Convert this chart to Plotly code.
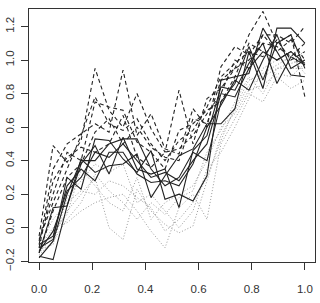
import plotly.graph_objects as go

x = [i / 19 for i in range(20)]

solid = [
    [-0.17,-0.19,0.13,0.41,0.33,0.37,0.38,0.44,0.18,0.31,0.43,0.47,0.62,0.62,0.71,1.05,0.83,1.19,1.19,1.10],
    [-0.12,-0.07,0.30,0.23,0.53,0.52,0.41,0.33,0.46,0.17,0.20,0.16,0.31,0.88,0.90,0.92,1.19,1.05,0.91,0.90],
    [-0.15,0.12,0.13,0.38,0.49,0.32,0.54,0.35,0.32,0.35,0.12,0.46,0.55,0.84,0.82,0.98,1.10,0.86,1.02,0.97],
    [-0.10,-0.05,0.25,0.35,0.28,0.45,0.45,0.32,0.27,0.28,0.25,0.38,0.60,0.73,0.88,0.82,1.00,1.15,0.95,1.00],
    [-0.18,-0.08,0.20,0.40,0.40,0.50,0.53,0.53,0.35,0.25,0.30,0.45,0.40,0.75,0.86,1.08,0.88,1.10,1.15,0.95],
    [-0.14,-0.02,0.22,0.30,0.45,0.42,0.50,0.40,0.30,0.33,0.28,0.40,0.50,0.80,0.78,0.95,1.05,1.00,1.05,0.98],
]

dashed = [
    [-0.05,0.49,0.39,0.52,0.95,0.70,0.60,0.80,0.59,0.45,0.82,0.50,0.77,0.83,0.95,1.15,1.29,1.10,1.15,0.78],
    [-0.10,0.35,0.50,0.56,0.62,0.57,0.94,0.55,0.68,0.47,0.44,0.71,0.60,0.96,1.08,1.03,1.15,1.15,1.10,1.20],
    [-0.08,0.20,0.45,0.40,0.75,0.72,0.70,0.51,0.45,0.35,0.58,0.62,0.70,0.75,0.90,1.10,1.05,1.00,1.05,0.97],
    [-0.15,0.10,0.30,0.38,0.57,0.65,0.50,0.60,0.48,0.42,0.40,0.65,0.62,0.88,0.95,1.00,1.10,1.08,1.02,1.10],
    [-0.12,0.28,0.42,0.48,0.45,0.50,0.67,0.42,0.36,0.45,0.47,0.55,0.68,0.80,1.00,0.95,1.15,1.05,1.12,1.00],
    [-0.07,0.15,0.35,0.55,0.78,0.62,0.58,0.65,0.50,0.40,0.52,0.58,0.72,0.90,0.98,1.05,1.02,1.12,1.00,1.05],
]

dotted = [
    [-0.12,0.00,0.03,0.10,0.15,0.18,0.20,0.10,-0.02,-0.12,0.12,0.20,0.05,0.50,0.65,0.80,0.75,0.90,0.83,0.88],
    [-0.15,-0.05,0.10,0.20,0.30,0.00,-0.07,0.23,0.10,0.02,-0.03,0.01,0.28,0.55,0.70,0.85,0.90,0.95,0.95,0.95],
    [-0.13,-0.10,0.18,0.28,0.38,0.33,0.38,0.15,0.20,0.10,0.00,0.10,0.35,0.45,0.60,0.77,0.95,1.00,1.00,1.05],
    [-0.14,-0.02,0.08,0.35,0.25,0.15,0.10,0.30,0.05,0.15,0.20,0.25,0.40,0.60,0.68,0.82,0.85,0.92,0.90,0.98],
    [-0.11,0.05,0.15,0.22,0.20,0.28,0.25,0.18,0.12,-0.02,0.05,0.15,0.30,0.52,0.72,0.88,0.92,0.97,1.02,0.92],
    [-0.16,-0.08,0.05,0.15,0.32,0.22,0.15,0.05,0.15,0.08,0.18,0.22,0.45,0.58,0.75,0.90,0.80,0.95,0.98,1.00],
]

xticks = [0.0, 0.2, 0.4, 0.6, 0.8, 1.0]
yticks = [-0.2, 0.0, 0.2, 0.4, 0.6, 0.8, 1.0, 1.2]

fig = go.Figure()
for ys in dotted:
    fig.add_trace(go.Scatter(x=x, y=ys, mode="lines",
                             line=dict(color="#9a9a9a", width=1, dash="1px,2px")))
for ys in dashed:
    fig.add_trace(go.Scatter(x=x, y=ys, mode="lines",
                             line=dict(color="#222222", width=1.1, dash="4px,3px")))
for ys in solid:
    fig.add_trace(go.Scatter(x=x, y=ys, mode="lines",
                             line=dict(color="#222222", width=1.1)))

axis_common = dict(showgrid=False, zeroline=False, showline=True, mirror=True,
                   linecolor="#333333", linewidth=1, ticks="outside", ticklen=7,
                   tickcolor="#333333", tickwidth=1,
                   tickfont=dict(family="Liberation Sans, Arial, sans-serif", size=11.5, color="#333333"))

fig.update_layout(
    width=320, height=303,
    margin=dict(l=25, r=4, t=9, b=41),
    plot_bgcolor="white", paper_bgcolor="white",
    showlegend=False,
    xaxis=dict(range=[-0.038, 1.038], tickvals=xticks,
               ticktext=[f"{v:.1f}" for v in xticks], ticklabelstandoff=9, **axis_common),
    yaxis=dict(range=[-0.204, 1.304], tickvals=yticks,
               ticktext=[f"{v:.1f}".replace("-", "\u2212") for v in yticks],
               tickangle=-90, ticklabelstandoff=2, **axis_common),
)

fig.write_html("out.html")
